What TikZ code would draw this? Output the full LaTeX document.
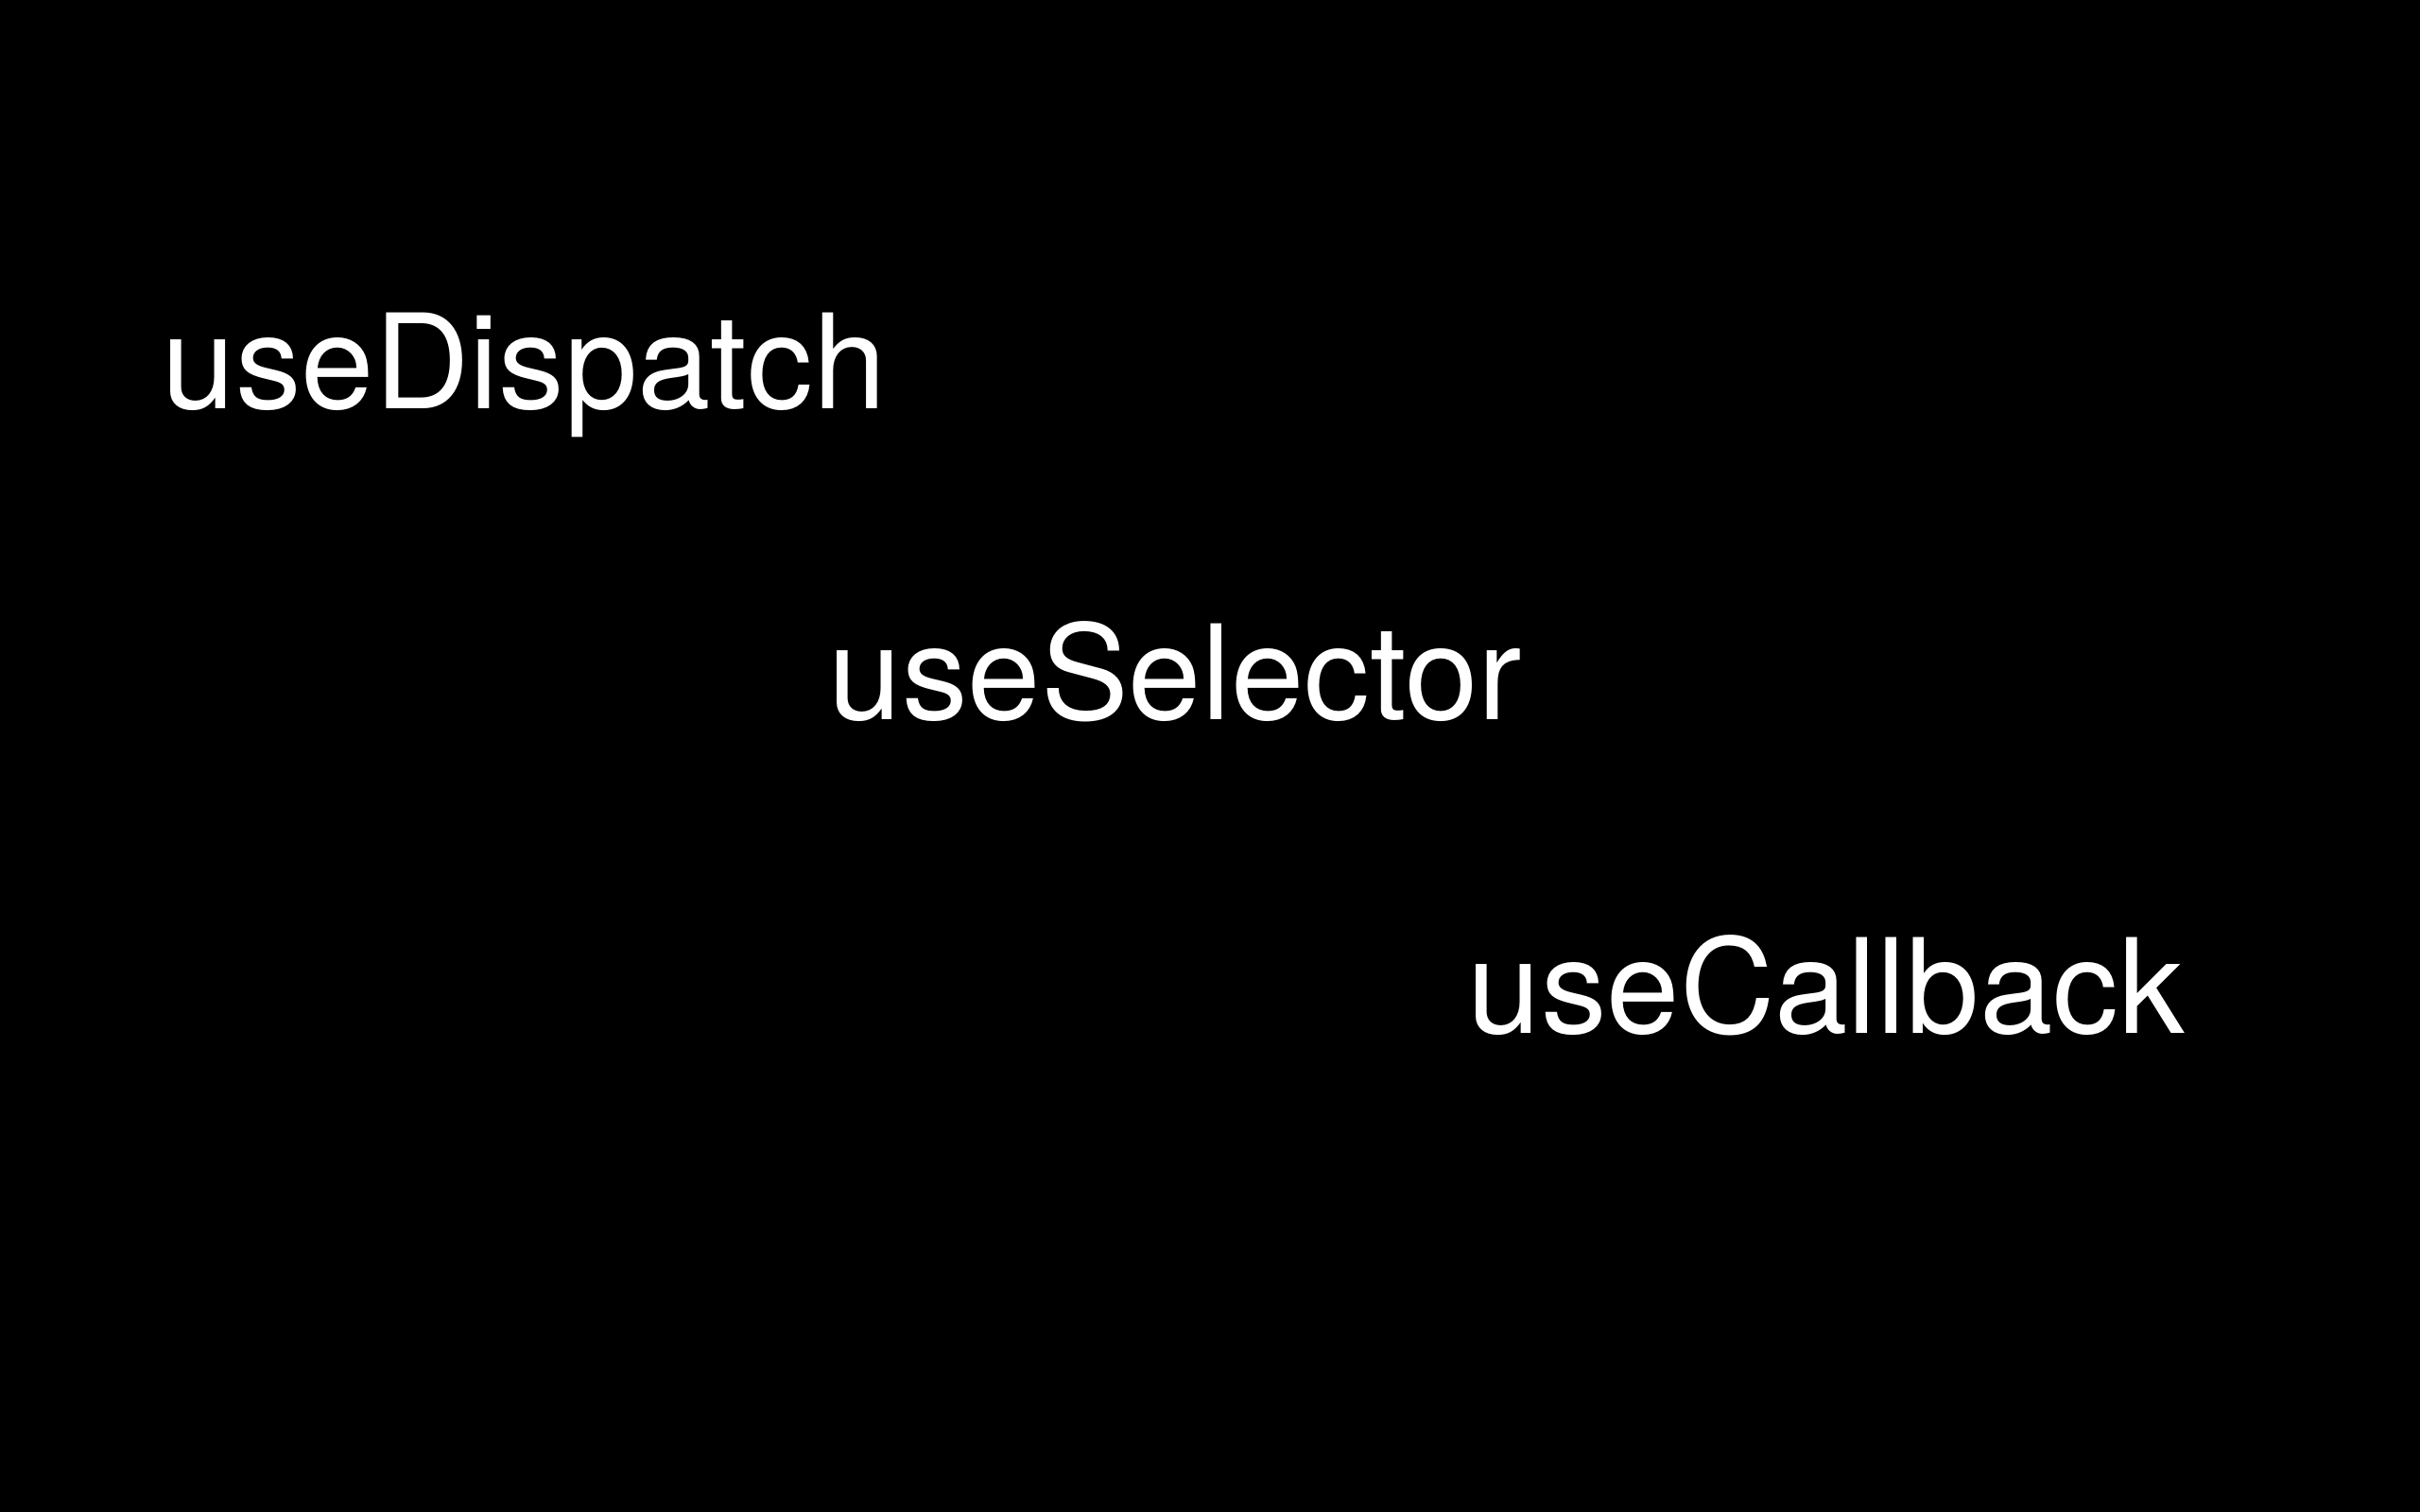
\documentclass[tikz,border=0pt]{standalone}
\usepackage{fontspec}
\setmainfont{TeX Gyre Heros}
\usetikzlibrary{positioning}

\tikzset{
  hook/.style={text=white, anchor=base west, inner sep=0pt,
    font=\fontsize{39.6}{47}\selectfont}
}

\begin{document}
\begin{tikzpicture}
% Background
\fill[black] (0,0) rectangle (25.6,16);
\useasboundingbox (0,0) rectangle (25.6,16);
% Hook names, stepping down to the right
\node[hook] (dispatch) at (1.71,11.67) {useDispatch};
\node[hook] (selector) at (8.76,8.38) {useSelector};
\node[hook] (callback) at (15.52,5.06) {useCallback};
\end{tikzpicture}
\end{document}
